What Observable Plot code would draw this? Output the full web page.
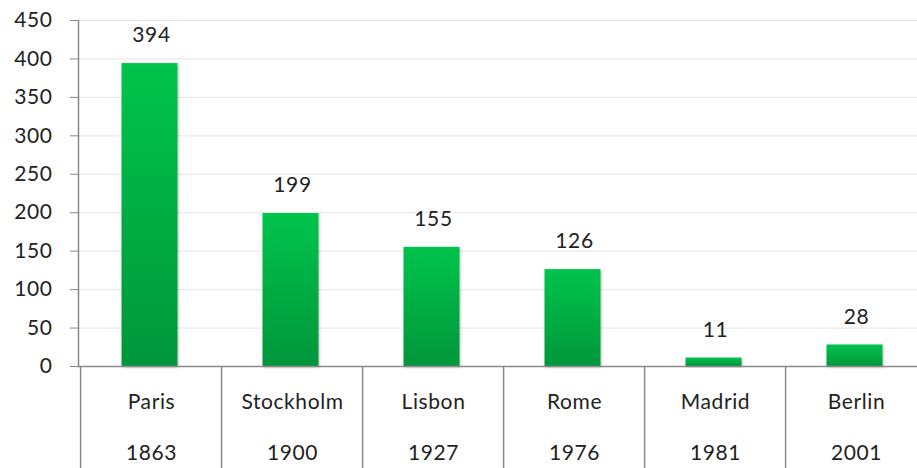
<!DOCTYPE html>
<html>
<head>
<meta charset="utf-8">
<script src="https://cdn.jsdelivr.net/npm/d3@7"></script>
<script src="https://cdn.jsdelivr.net/npm/@observablehq/plot@0.6"></script>
<style>
  html, body { margin: 0; padding: 0; background: white; overflow: hidden; }
  #chart svg { max-width: none !important; }
  #chart svg text { letter-spacing: 0.6px; }
</style>
</head>
<body>
<div id="chart"></div>
<script>
const cities = ["Paris", "Stockholm", "Lisbon", "Rome", "Madrid", "Berlin"];
const years = ["1863", "1900", "1927", "1976", "1981", "2001"];
const values = [394, 199, 155, 126, 11, 28];
const yTicks = [0, 50, 100, 150, 200, 250, 300, 350, 400, 450];

const data = cities.map((c, i) => ({city: c, year: years[i], value: values[i]}));

const W = 917, H = 468;
const mL = 78, mR = -12, mT = 20, mB = 102;
const step = (W - mR - mL) / cities.length;
const font = "Lato, 'Open Sans', sans-serif";
const fs = 21;

const defs = () => {
  const ns = "http://www.w3.org/2000/svg";
  const d = document.createElementNS(ns, "defs");
  d.innerHTML = `
    <linearGradient id="barGrad" x1="0" y1="0" x2="0" y2="1" gradientUnits="objectBoundingBox">
      <stop offset="0%" stop-color="#00c44b"/>
      <stop offset="100%" stop-color="#00963b"/>
    </linearGradient>
    <filter id="shadow" x="-20%" y="-20%" width="140%" height="140%">
      <feDropShadow dx="1" dy="1.5" stdDeviation="1.2" flood-color="#000" flood-opacity="0.25"/>
    </filter>`;
  return d;
};

const chart = Plot.plot({
  width: W,
  height: H,
  marginLeft: mL,
  marginRight: mR,
  marginTop: mT,
  marginBottom: mB,
  style: {fontFamily: font, fontSize: fs + "px", color: "#222", background: "white"},
  x: {domain: cities, paddingInner: 0.6, paddingOuter: 0.3, axis: null},
  y: {domain: [0, 450], axis: null},
  marks: [
    defs,
    Plot.ruleY(yTicks.filter(d => d > 0), {y: d => d, stroke: "#e4e4e4", strokeWidth: 1}),
    Plot.axisY({ticks: yTicks, tickSize: 8, tickPadding: 18, stroke: "#888", fontSize: fs, fill: "#222", label: null}),
    Plot.frame({anchor: "left", stroke: "#888", strokeWidth: 1.5}),
    Plot.barY(data, {x: "city", y: "value", fill: "url(#barGrad)", dx: -1.5}),
    Plot.ruleY([0], {stroke: "#8a8a8a", strokeWidth: 1.5}),
    Plot.ruleX(data, {x: "city", dx: -step / 2, stroke: "#8a8a8a", strokeWidth: 1.5, insetTop: H - mB - mT, insetBottom: -mB}),
    Plot.text(data, {x: "city", y: "value", text: d => String(d.value), dy: -28, fontSize: fs, fill: "#222"}),
    Plot.text(data, {x: "city", text: "city", frameAnchor: "bottom", dy: 42, fontSize: fs, fill: "#222"}),
    Plot.text(data, {x: "city", text: "year", frameAnchor: "bottom", dy: 93, fontSize: fs, fill: "#222"})
  ]
});

chart.querySelectorAll("rect").forEach(r => {
  if (r.getAttribute("fill") === "url(#barGrad)" || (r.parentNode && r.parentNode.getAttribute("fill") === "url(#barGrad)")) {
    r.setAttribute("filter", "url(#shadow)");
  }
});
document.getElementById("chart").appendChild(chart);
</script>
</body>
</html>
